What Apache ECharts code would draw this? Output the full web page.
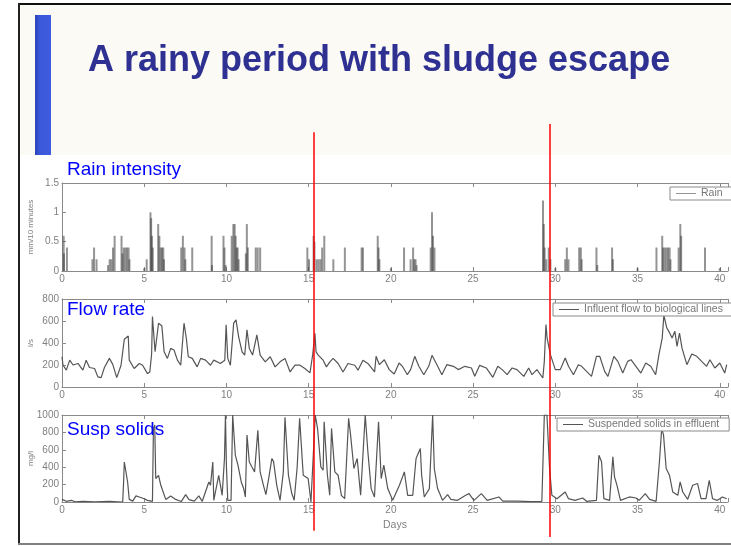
<!DOCTYPE html>
<html>
<head>
<meta charset="utf-8">
<title>A rainy period with sludge escape</title>
<script src="https://cdn.jsdelivr.net/npm/echarts@6/dist/echarts.min.js"></script>
<style>
  html, body { margin: 0; padding: 0; background: #fff; }
  #chart { width: 731px; height: 546px; }
</style>
</head>
<body>
<div id="chart"></div>
<script>
// rain intensity (mm/10 minutes) as [day, value] impulses
const rain = [
  [0.1, 0.6], [0.12, 0.3], [0.3, 0.4],
  [1.85, 0.2], [1.95, 0.4], [2.1, 0.2],
  [2.8, 0.1], [2.9, 0.2], [3.0, 0.2], [3.1, 0.4], [3.2, 0.6],
  [3.62, 0.6], [3.68, 0.3], [3.75, 0.4], [3.85, 0.4], [3.95, 0.4], [4.05, 0.4], [4.1, 0.2],
  [5.0, 0.05], [5.15, 0.2],
  [5.38, 1.0], [5.42, 0.9], [5.47, 0.6], [5.52, 0.4],
  [5.85, 0.8], [5.92, 0.6], [6.0, 0.4], [6.08, 0.4], [6.16, 0.4], [6.2, 0.2],
  [7.25, 0.4], [7.35, 0.6], [7.45, 0.4], [7.5, 0.2],
  [7.92, 0.4],
  [9.1, 0.6], [9.12, 0.1],
  [9.82, 0.6], [9.88, 0.4], [9.95, 0.1],
  [10.32, 0.6], [10.42, 0.8], [10.5, 0.8], [10.56, 0.6], [10.62, 0.4], [10.68, 0.4], [10.74, 0.2],
  [11.18, 0.3], [11.24, 0.8], [11.3, 0.4],
  [11.78, 0.4], [11.9, 0.4], [12.05, 0.4],
  [14.92, 0.4], [15.02, 0.2],
  [15.3, 0.6], [15.35, 0.5], [15.48, 0.2], [15.6, 0.2], [15.72, 0.2], [15.82, 0.4], [15.95, 0.6],
  [16.5, 0.2], [17.2, 0.4], [18.22, 0.4], [18.3, 0.4],
  [19.2, 0.6], [19.25, 0.4], [19.3, 0.2], [20.0, 0.05], [20.8, 0.4],
  [21.2, 0.2], [21.35, 0.4], [21.42, 0.2], [21.5, 0.2], [21.56, 0.1],
  [22.42, 0.4], [22.5, 1.0], [22.56, 0.6], [22.65, 0.4],
  [29.25, 1.2], [29.3, 0.8], [29.35, 0.4], [29.45, 0.2], [29.6, 0.4], [29.7, 0.2], [30.0, 0.05],
  [30.6, 0.2], [30.7, 0.4], [30.8, 0.2],
  [31.45, 0.4], [31.55, 0.4], [31.6, 0.2],
  [32.5, 0.4], [32.55, 0.1],
  [33.45, 0.4], [33.5, 0.2],
  [35.0, 0.05], [36.15, 0.4],
  [36.5, 0.6], [36.55, 0.4], [36.65, 0.4], [36.75, 0.4], [36.85, 0.4], [36.95, 0.4], [37.0, 0.2],
  [37.5, 0.4], [37.6, 0.8], [37.65, 0.6],
  [39.1, 0.4], [40.0, 0.05]
];

// influent flow to biological lines (l/s)
const flow = [
  [0.0, 275], [0.06, 200], [0.26, 153], [0.47, 244], [0.67, 200], [0.97, 214], [1.27, 153],
  [1.47, 244], [1.67, 177], [1.98, 168], [2.18, 92], [2.38, 85], [2.58, 177], [2.88, 260],
  [3.08, 208], [3.33, 85], [3.59, 198], [3.79, 434], [4.03, 464], [4.09, 244], [4.39, 168],
  [4.7, 214], [4.9, 198], [5.2, 122], [5.34, 137], [5.45, 300], [5.5, 641], [5.66, 320],
  [5.77, 336], [5.87, 580], [6.07, 556], [6.21, 320], [6.41, 260], [6.61, 351], [6.81, 336],
  [7.02, 244], [7.22, 198], [7.42, 580], [7.56, 443], [7.68, 275], [7.92, 260], [8.22, 183],
  [8.43, 260], [8.73, 244], [9.03, 198], [9.23, 244], [9.63, 214], [9.9, 244], [9.98, 565],
  [10.08, 260], [10.24, 198], [10.44, 580], [10.58, 610], [10.74, 458], [10.95, 320],
  [11.11, 290], [11.25, 519], [11.39, 351], [11.59, 290], [11.85, 473], [12.05, 290],
  [12.36, 229], [12.66, 275], [12.96, 183], [13.26, 229], [13.56, 260], [13.87, 137],
  [14.17, 198], [14.47, 198], [14.77, 168], [15.08, 128], [15.25, 300], [15.38, 489],
  [15.45, 320], [15.58, 290], [15.88, 244], [16.08, 183], [16.29, 229], [16.49, 260],
  [16.79, 214], [17.09, 137], [17.39, 214], [17.8, 198], [18.0, 153], [18.3, 244],
  [18.6, 214], [19.01, 137], [19.1, 279], [19.3, 203], [19.6, 248], [19.9, 158], [20.2, 118],
  [20.5, 218], [20.7, 188], [21.0, 112], [21.2, 158], [21.45, 279], [21.7, 188], [22.0, 112],
  [22.3, 188], [22.5, 288], [22.8, 203], [23.1, 112], [23.4, 203], [23.8, 188], [24.1, 158],
  [24.5, 188], [24.9, 173], [25.1, 97], [25.4, 197], [25.8, 173], [26.2, 88], [26.5, 188],
  [26.77, 158], [27.07, 112], [27.37, 173], [27.67, 158], [28.08, 97], [28.38, 173],
  [28.58, 112], [28.88, 158], [29.24, 82], [29.33, 233], [29.43, 567], [29.5, 445],
  [29.7, 294], [30.0, 158], [30.3, 158], [30.6, 264], [30.8, 188], [31.1, 112], [31.4, 203],
  [31.6, 188], [31.9, 142], [32.2, 97], [32.5, 279], [32.7, 279], [33.0, 142], [33.2, 97],
  [33.56, 279], [33.8, 233], [34.1, 127], [34.4, 233], [34.6, 248], [34.9, 188], [35.2, 127],
  [35.5, 218], [35.8, 188], [36.1, 112], [36.3, 294], [36.5, 445], [36.6, 651], [36.78, 536],
  [36.9, 506], [37.1, 445], [37.27, 506], [37.4, 370], [37.55, 491], [37.7, 355], [38.0, 203],
  [38.3, 300], [38.6, 279], [38.9, 233], [39.2, 188], [39.4, 248], [39.7, 173], [40.0, 218],
  [40.3, 127], [40.42, 203]
];

// suspended solids in effluent (mg/l)
const solids = [
  [0.0, 30], [0.06, 38], [0.26, 8], [0.57, 19], [0.8, 3], [1.27, 8], [2.0, 3], [2.88, 8],
  [3.69, 0], [3.74, 200], [3.79, 460], [3.89, 442], [3.99, 230], [4.09, 30], [4.3, 10],
  [4.5, 70], [4.7, 58], [5.0, 38], [5.2, 19], [5.5, 8], [5.56, 846], [5.64, 885], [5.7, 270],
  [5.87, 307], [6.01, 192], [6.31, 30], [6.61, 70], [6.91, 30], [7.25, 5], [7.52, 85],
  [7.72, 27], [8.05, 10], [8.32, 70], [8.53, 8], [8.93, 230], [9.03, 192], [9.17, 460],
  [9.23, 19], [9.53, 307], [9.74, 77], [9.88, 500], [9.94, 1000], [10.0, 400], [10.08, 19],
  [10.28, 19], [10.38, 1000], [10.54, 538], [10.7, 423], [10.9, 230], [11.05, 153],
  [11.15, 58], [11.25, 769], [11.39, 460], [11.55, 402], [11.71, 346], [11.91, 823],
  [12.05, 346], [12.25, 192], [12.4, 85], [12.6, 307], [12.76, 500], [12.86, 469],
  [13.06, 192], [13.26, 19], [13.46, 346], [13.56, 975], [13.77, 308], [13.97, 100],
  [14.12, 20], [14.3, 400], [14.45, 961], [14.67, 308], [14.97, 269], [15.14, 0],
  [15.28, 538], [15.4, 1000], [15.54, 846], [15.74, 404], [15.88, 365], [15.94, 923],
  [16.14, 308], [16.28, 77], [16.39, 846], [16.59, 346], [16.79, 308], [16.99, 77],
  [17.19, 38], [17.43, 961], [17.55, 769], [17.75, 385], [17.95, 500], [18.16, 77],
  [18.44, 1000], [18.6, 577], [18.8, 154], [19.0, 58], [19.25, 923], [19.41, 269],
  [19.57, 423], [19.81, 154], [20.11, 19], [20.52, 192], [20.82, 346], [21.02, 77],
  [21.33, 77], [21.53, 500], [21.79, 615], [21.87, 308], [22.03, 58], [22.34, 154],
  [22.54, 1000], [22.64, 385], [22.84, 154], [23.14, 19], [23.45, 85], [23.65, 31],
  [24.05, 19], [24.55, 77], [24.75, 96], [25.05, 19], [25.5, 96], [25.86, 19], [26.57, 58],
  [26.8, 10], [27.67, 10], [28.5, 5], [29.18, 8], [29.33, 1000], [29.49, 1000], [29.65, 385],
  [29.79, 77], [30.1, 38], [30.6, 115], [30.8, 38], [31.2, 19], [31.66, 46], [31.9, 8],
  [32.5, 19], [32.65, 538], [32.81, 462], [32.95, 38], [33.3, 19], [33.5, 519], [33.6, 288],
  [33.75, 192], [33.96, 19], [34.5, 58], [34.9, 46], [35.1, 19], [35.47, 96], [35.73, 31],
  [36.13, 8], [36.33, 462], [36.47, 850], [36.58, 769], [36.74, 385], [36.94, 308],
  [37.14, 115], [37.45, 77], [37.59, 231], [37.75, 115], [38.05, 31], [38.35, 192],
  [38.65, 212], [38.86, 38], [39.16, 38], [39.36, 250], [39.56, 38], [39.86, 19], [40.16, 58],
  [40.42, 38]
];

// days where the red marker lines are drawn
const markerDays = [15.26, 29.53];

const seriesNames = ['Rain', 'Influent flow to biological lines', 'Suspended solids in effluent'];
const panelTitles = ['Rain intensity', 'Flow rate', 'Susp solids'];
const yNames = ['mm/10 minutes', 'l/s', 'mg/l'];
const yMax = [1.5, 800, 1000];
const yStep = [0.5, 200, 200];

const font = '"Liberation Sans", Arial, sans-serif';
const axisGray = '#8a8a8a';
const labelGray = '#808080';
const dayMax = 40.5;

const panelTop = [183, 299, 415];
const panelHeight = [88, 88, 87];

var chart = echarts.init(document.getElementById('chart'));

var grids = panelTop.map((t, i) => ({ left: 62, top: t, width: 670, height: panelHeight[i] }));
grids.push({ left: 62, top: 124, width: 670, height: 413 }); // overlay for the red lines

var xAxes = [];
panelTop.forEach((t, i) => {
  xAxes.push({
    gridIndex: i,
    type: 'value',
    min: 0,
    max: dayMax,
    interval: 5,
    axisLine: { lineStyle: { color: axisGray, width: 1 } },
    axisTick: { inside: true, length: 4, lineStyle: { color: axisGray } },
    axisLabel: {
      margin: 3,
      color: labelGray,
      fontSize: 10,
      fontFamily: font,
      formatter: v => (v % 5 === 0 ? String(v) : '')
    },
    splitLine: { show: false },
    name: i === 2 ? 'Days' : '',
    nameLocation: 'middle',
    nameGap: 18,
    nameMoveOverlap: false,
    nameTextStyle: { color: labelGray, fontSize: 10.5, fontFamily: font }
  });
  xAxes.push({
    gridIndex: i,
    type: 'value',
    position: 'top',
    min: 0,
    max: dayMax,
    interval: 5,
    axisLine: { lineStyle: { color: axisGray, width: 1 } },
    axisTick: { inside: true, length: 4, lineStyle: { color: axisGray } },
    axisLabel: { show: false },
    splitLine: { show: false }
  });
});
xAxes.push({ gridIndex: 3, type: 'value', min: 0, max: dayMax, show: false });

var yAxes = panelTop.map((t, i) => ({
  gridIndex: i,
  type: 'value',
  min: 0,
  max: yMax[i],
  interval: yStep[i],
  name: yNames[i],
  nameLocation: 'middle',
  nameRotate: 90,
  nameGap: 27,
  nameMoveOverlap: false,
  nameTextStyle: { color: labelGray, fontSize: 8, fontFamily: font },
  axisLine: { show: true, lineStyle: { color: axisGray, width: 1 } },
  axisTick: { show: true, inside: true, length: 4, lineStyle: { color: axisGray } },
  axisLabel: { margin: 3, color: labelGray, fontSize: 10, fontFamily: font, formatter: v => String(v) },
  splitLine: { show: false }
}));
yAxes.push({ gridIndex: 3, type: 'value', min: 0, max: 1, show: false });

function legendAt(name, left, top) {
  return {
    data: [name],
    left: left,
    top: top,
    icon: 'rect',
    itemWidth: 20,
    itemHeight: 1,
    padding: [1, 10, 1, 6],
    borderColor: '#8a8a8a',
    borderWidth: 1,
    borderRadius: 0,
    backgroundColor: '#fff',
    selectedMode: false,
    textStyle: { color: '#777', fontSize: 10.5, fontFamily: font }
  };
}

var option = {
  animation: false,
  backgroundColor: '#fff',
  grid: grids,
  xAxis: xAxes,
  yAxis: yAxes,
  legend: [
    legendAt(seriesNames[0], 670, 187),
    legendAt(seriesNames[1], 553, 303),
    legendAt(seriesNames[2], 557, 418)
  ],
  graphic: [
    { type: 'rect', z: -5, shape: { x: 18, y: 4, width: 713, height: 151 }, style: { fill: '#fbfaf5' } },
    { type: 'rect', z: -4, shape: { x: 35, y: 15, width: 16, height: 140 },
      style: { fill: new echarts.graphic.LinearGradient(0, 0, 1, 0, [
        { offset: 0, color: '#2a42b8' }, { offset: 0.3, color: '#3b58da' }, { offset: 1, color: '#3f5ce0' }
      ]) } },
    { type: 'line', shape: { x1: 18, y1: 4, x2: 731, y2: 4 }, style: { stroke: '#111', lineWidth: 2 } },
    { type: 'line', shape: { x1: 19, y1: 3, x2: 19, y2: 545 }, style: { stroke: '#222', lineWidth: 2 } },
    { type: 'line', shape: { x1: 18, y1: 544, x2: 731, y2: 544 }, style: { stroke: '#808080', lineWidth: 2 } },
    { type: 'text', x: 88, y: 61,
      style: { text: 'A rainy period with sludge escape', fill: '#2e3192', fontSize: 36,
               fontWeight: 'bold', fontFamily: font, verticalAlign: 'middle' } },
    { type: 'text', z: 20, x: 67, y: 170,
      style: { text: panelTitles[0], fill: '#0000ff', fontSize: 19, fontFamily: font, verticalAlign: 'middle' } },
    { type: 'text', z: 20, x: 67, y: 310,
      style: { text: panelTitles[1], fill: '#0000ff', fontSize: 19, fontFamily: font, verticalAlign: 'middle' } },
    { type: 'text', z: 20, x: 67, y: 430,
      style: { text: panelTitles[2], fill: '#0000ff', fontSize: 19, fontFamily: font, verticalAlign: 'middle' } }
  ],
  series: [
    {
      name: seriesNames[0],
      type: 'bar',
      xAxisIndex: 0,
      yAxisIndex: 0,
      barWidth: 2,
      color: '#555',
      itemStyle: { color: 'rgba(60,60,60,0.55)' },
      data: rain
    },
    {
      name: seriesNames[1],
      type: 'line',
      xAxisIndex: 2,
      yAxisIndex: 1,
      showSymbol: false,
      color: '#555',
      lineStyle: { color: '#555', width: 1.2 },
      data: flow
    },
    {
      name: seriesNames[2],
      type: 'line',
      xAxisIndex: 4,
      yAxisIndex: 2,
      showSymbol: false,
      color: '#555',
      lineStyle: { color: '#555', width: 1.2 },
      data: solids
    },
    {
      // red marker lines across all panels
      type: 'line',
      xAxisIndex: 6,
      yAxisIndex: 3,
      z: 10,
      color: '#ff0000',
      data: [],
      markLine: {
        silent: true,
        symbol: 'none',
        label: { show: false },
        itemStyle: { color: '#ff0000' },
        lineStyle: { color: '#ff0000', width: 1.5, type: 'solid', opacity: 1 },
        emphasis: { disabled: true },
        data: [
          [{ coord: [markerDays[0], 0.015] }, { coord: [markerDays[0], 0.98] }],
          [{ coord: [markerDays[1], 0] }, { coord: [markerDays[1], 1] }]
        ]
      }
    }
  ]
};

chart.setOption(option);
</script>
</body>
</html>
